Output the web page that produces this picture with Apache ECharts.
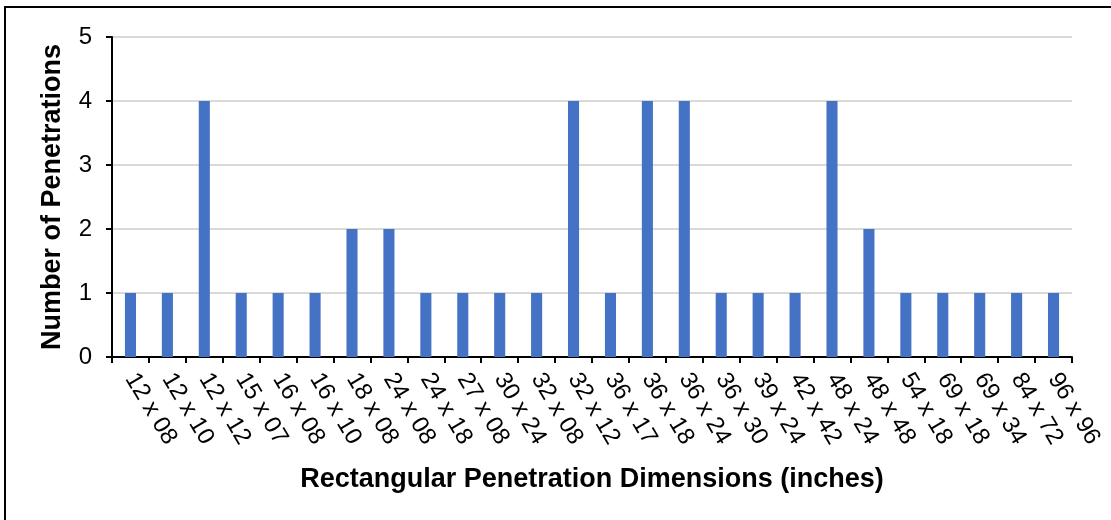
<!DOCTYPE html>
<html>
<head>
<meta charset="utf-8">
<script src="https://cdn.jsdelivr.net/npm/echarts@6/dist/echarts.min.js"></script>
<style>
  html, body { margin: 0; padding: 0; background: #fff; }
  #chart { width: 1111px; height: 520px; }
</style>
</head>
<body>
<div id="chart"></div>
<script>
// 矩形贯穿件尺寸
const dimensions = [
  '12 x 08', '12 x 10', '12 x 12', '15 x 07', '16 x 08', '16 x 10', '18 x 08',
  '24 x 08', '24 x 18', '27 x 08', '30 x 24', '32 x 08', '32 x 12', '36 x 17',
  '36 x 18', '36 x 24', '36 x 30', '39 x 24', '42 x 42', '48 x 24', '48 x 48',
  '54 x 18', '69 x 18', '69 x 34', '84 x 72', '96 x 96'
]
// 每种尺寸的数量
const counts = [1, 1, 4, 1, 1, 1, 2, 2, 1, 1, 1, 1, 4, 1, 4, 4, 1, 1, 1, 4, 2, 1, 1, 1, 1, 1]
const yTicks = [0, 1, 2, 3, 4, 5]

const font = 'Liberation Sans, Arial, sans-serif'
const chart = echarts.init(document.getElementById('chart'))

const option = {
  animation: false,
  // 外框
  graphic: [
    {
      type: 'rect',
      shape: { x: 5, y: 7, width: 1200, height: 600 },
      style: { fill: 'none', stroke: '#000', lineWidth: 2 }
    }
  ],
  grid: {
    left: 112,
    right: 39,
    top: 37,
    bottom: 163
  },
  xAxis: {
    type: 'category',
    data: dimensions,
    name: 'Rectangular Penetration Dimensions (inches)',
    nameLocation: 'middle',
    nameGap: 109,
    nameTextStyle: { fontFamily: font, fontSize: 27, fontWeight: 'bold', color: '#000' },
    axisLine: { lineStyle: { color: '#000', width: 2 } },
    axisTick: { show: true, length: 6, lineStyle: { color: '#000', width: 2 } },
    axisLabel: {
      interval: 0,
      rotate: -59,
      margin: 18,
      fontFamily: font,
      fontSize: 24,
      color: '#000'
    }
  },
  yAxis: {
    type: 'value',
    min: yTicks[0],
    max: yTicks[yTicks.length - 1],
    interval: 1,
    name: 'Number of Penetrations',
    nameLocation: 'middle',
    nameGap: 46,
    nameTextStyle: { fontFamily: font, fontSize: 27, fontWeight: 'bold', color: '#000' },
    axisLine: { show: true, lineStyle: { color: '#000', width: 2 } },
    axisTick: { show: true, length: 6, lineStyle: { color: '#000', width: 2 } },
    axisLabel: { fontFamily: font, fontSize: 24, color: '#000', margin: 20 },
    splitLine: { lineStyle: { color: '#d9d9d9', width: 2 } }
  },
  series: [
    {
      type: 'bar',
      data: counts,
      barWidth: '30%',
      itemStyle: { color: '#4472C4' }
    }
  ]
}

chart.setOption(option)
</script>
</body>
</html>
